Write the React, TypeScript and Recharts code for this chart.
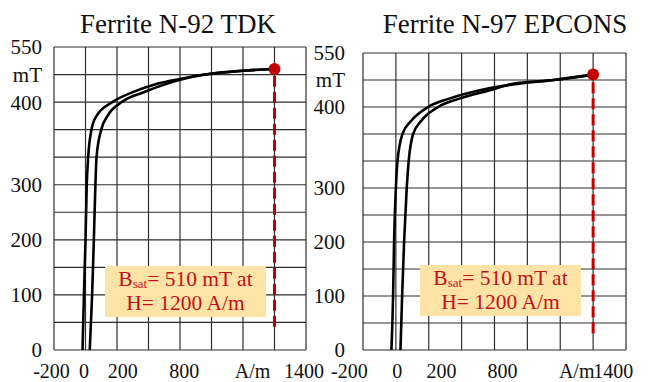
import { LineChart, Line, XAxis, YAxis, CartesianGrid, ReferenceLine, ReferenceDot } from 'recharts';

// grid: 200 A/m columns, 50 mT rows
const GRID_H = [-200, 0, 200, 400, 600, 800, 1000, 1200, 1400];
const GRID_B = [0, 50, 100, 150, 200, 250, 300, 350, 400, 450, 500, 550];

// y tick labels sit where the scan puts them (the "400" label is on the 450 line)
const B_TICKS = [0, 100, 200, 300, 450, 500, 550];
const B_TICK_LABELS = ['0', '100', '200', '300', '400', 'mT', '550'];

// x tick labels, placed where they appear under each plot
const H_TICK_LABELS = ['-200', '0', '200', '800', 'A/m', '1400'];
const N92_H_TICKS = [-216, -10, 236, 627, 1061, 1388];
const N97_H_TICKS = [-283, 8, 277, 648, 1100, 1323];

// N-92 (TDK) hysteresis branches
const N92_OUTER_H = [-19, -10, 0, 8, 17, 38, 70, 170, 300, 450, 600, 760, 1000, 1200];
const N92_OUTER_B = [0, 100, 200, 300, 350, 400, 425, 450, 468, 483, 492, 500, 507, 510];
const N92_INNER_H = [27, 42, 53, 63, 70, 100, 140, 230, 370, 510, 620, 760, 1000, 1200];
const N92_INNER_B = [0, 100, 200, 300, 350, 400, 425, 450, 468, 483, 492, 500, 507, 510];

// N-97 (EPCOS) hysteresis branches
const N97_OUTER_H = [-27, -17, -11, 0, 10, 40, 95, 196, 329, 512, 674, 959, 1200];
const N97_OUTER_B = [0, 100, 200, 300, 350, 400, 425, 450, 466, 481, 490, 500, 510];
const N97_INNER_H = [28, 38, 50, 66, 78, 105, 156, 257, 390, 573, 713, 959, 1200];
const N97_INNER_B = [0, 100, 200, 300, 350, 400, 425, 450, 466, 481, 493, 500, 510];

// saturation point and where the dashed marker stops
const SAT_H = 1200;
const SAT_B = 510;
const N92_DASH_END = 42;
const N97_DASH_END = 31;

const FONT = '"Liberation Serif", "Times New Roman", serif';
const RED = '#c00000';

const toPoints = (h: number[], b: number[]) => h.map((v, i) => ({ h: v, b: b[i] }));

interface PanelProps {
  left: number;
  width: number;
  top: number;
  right: number;
  yAxisWidth: number;
  yTickMargin: number;
  xTickMargin: number;
  hTicks: number[];
  outer: { h: number; b: number }[];
  inner: { h: number; b: number }[];
  dashEnd: number;
}

function BHPanel({ left, width, top, right, yAxisWidth, yTickMargin, xTickMargin, hTicks, outer, inner, dashEnd }: PanelProps) {
  return (
    <div style={{ position: 'absolute', left, top: 0 }}>
      <LineChart width={width} height={382} margin={{ top, right, bottom: 0, left: 0 }}>
        <CartesianGrid
          stroke="#2e2e2e"
          strokeWidth={1.2}
          horizontalValues={GRID_B}
          verticalValues={GRID_H}
        />
        <XAxis
          type="number"
          dataKey="h"
          domain={[-200, 1400]}
          allowDataOverflow
          ticks={hTicks}
          interval={0}
          tickFormatter={(v) => H_TICK_LABELS[hTicks.indexOf(v)] ?? ''}
          axisLine={false}
          tickLine={false}
          tickSize={0}
          tickMargin={xTickMargin}
          height={32}
          tick={{ fontFamily: FONT, fontSize: 20, fill: '#111' }}
        />
        <YAxis
          type="number"
          dataKey="b"
          domain={[0, 550]}
          allowDataOverflow
          ticks={B_TICKS}
          interval={0}
          tickFormatter={(v) => B_TICK_LABELS[B_TICKS.indexOf(v)] ?? ''}
          axisLine={false}
          tickLine={false}
          tickSize={0}
          tickMargin={yTickMargin}
          width={yAxisWidth}
          tick={{ fontFamily: FONT, fontSize: 21, fill: '#111' }}
        />
        <Line data={outer} dataKey="b" type="monotone" stroke="#000" strokeWidth={2.6} dot={false} isAnimationActive={false} />
        <Line data={inner} dataKey="b" type="monotone" stroke="#000" strokeWidth={2.6} dot={false} isAnimationActive={false} />
        <ReferenceLine
          segment={[{ x: SAT_H, y: dashEnd }, { x: SAT_H, y: SAT_B }]}
          stroke={RED}
          strokeWidth={3}
          strokeDasharray="11 5"
        />
        <ReferenceDot x={SAT_H} y={SAT_B} r={6} fill={RED} stroke="none" />
      </LineChart>
    </div>
  );
}

function SatNote({ x, y }: { x: number; y: number }) {
  return (
    <g>
      <rect x={x} y={y} width={161} height={51} fill="#fde4a6" />
      <text x={x + 80.5} y={y + 20} textAnchor="middle" fontFamily={FONT} fontSize={21.5} fill="#c4101c">
        B<tspan fontSize={13} dy={2}>sat</tspan>
        <tspan dy={-2}>= 510 mT at</tspan>
      </text>
      <text x={x + 80.5} y={y + 44} textAnchor="middle" fontFamily={FONT} fontSize={21.5} fill="#c4101c">
        H= 1200 A/m
      </text>
    </g>
  );
}

export default function App() {
  return (
    <div style={{ position: 'absolute', left: 0, top: 0, width: 654, height: 382, background: '#fff' }}>
      <BHPanel
        left={0}
        width={330}
        top={47}
        right={24}
        yAxisWidth={54}
        yTickMargin={12}
        xTickMargin={14}
        hTicks={N92_H_TICKS}
        outer={toPoints(N92_OUTER_H, N92_OUTER_B)}
        inner={toPoints(N92_INNER_H, N92_INNER_B)}
        dashEnd={N92_DASH_END}
      />
      <BHPanel
        left={300}
        width={354}
        top={53}
        right={28}
        yAxisWidth={63}
        yTickMargin={18}
        xTickMargin={14}
        hTicks={N97_H_TICKS}
        outer={toPoints(N97_OUTER_H, N97_OUTER_B)}
        inner={toPoints(N97_INNER_H, N97_INNER_B)}
        dashEnd={N97_DASH_END}
      />
      <svg width={654} height={382} style={{ position: 'absolute', left: 0, top: 0, pointerEvents: 'none' }}>
        <text x={178} y={33} textAnchor="middle" fontFamily={FONT} fontSize={27} fill="#111">
          Ferrite N-92 TDK
        </text>
        <text x={505} y={33} textAnchor="middle" fontFamily={FONT} fontSize={27} fill="#111">
          Ferrite N-97 EPCONS
        </text>
        <SatNote x={105} y={266} />
        <SatNote x={420} y={265} />
      </svg>
    </div>
  );
}
